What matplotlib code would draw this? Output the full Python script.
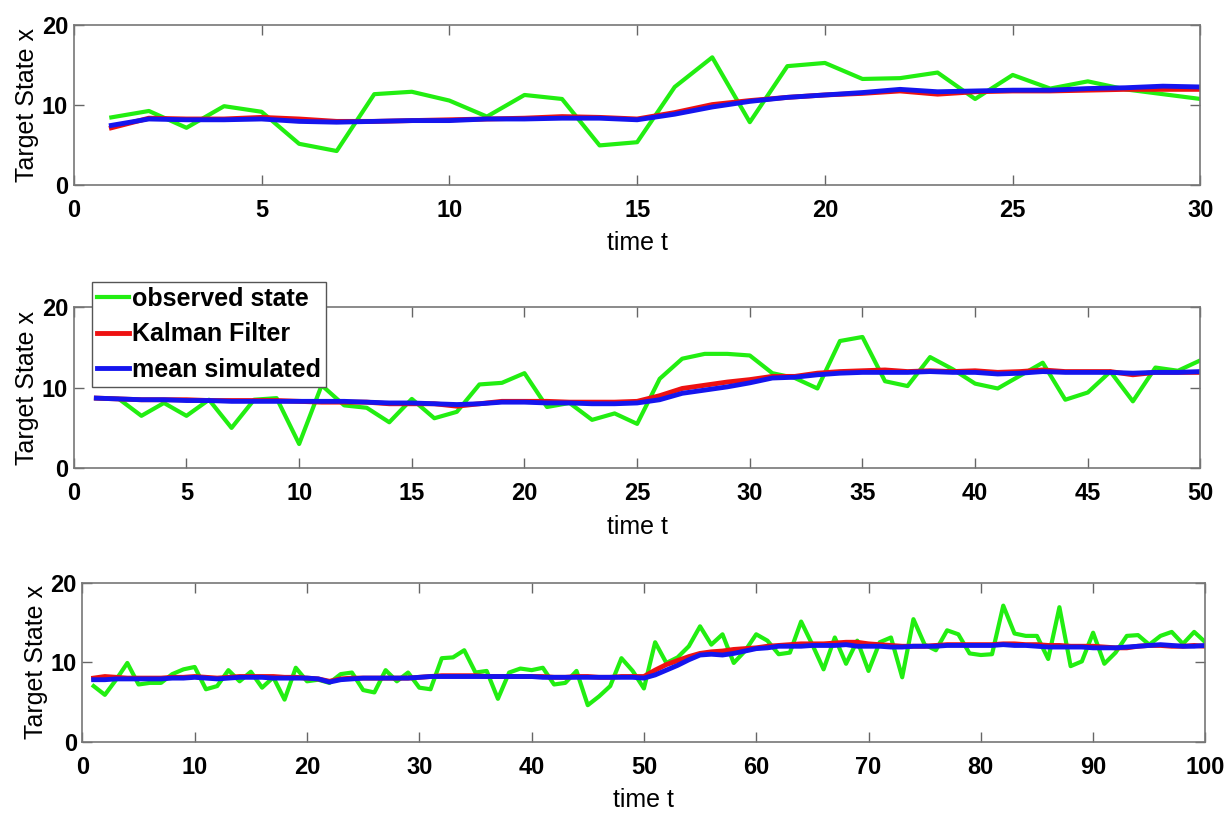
import numpy as np
import matplotlib
matplotlib.use('Agg')
from matplotlib import pyplot as plt

plt.rcParams['font.family'] = ['Liberation Sans', 'DejaVu Sans']

# panel 1: T = 30
obs_30 = [8.4, 9.2, 7.1, 9.8, 9.1, 5.1, 4.2, 11.3, 11.6, 10.5, 8.5, 11.2, 10.7, 4.9, 5.3,
          12.2, 15.9, 7.8, 14.8, 15.2, 13.2, 13.3, 14.0, 10.7, 13.7, 12.0, 12.9, 11.9, 11.3, 10.7]
kf_30 = [7.1, 8.3, 8.2, 8.2, 8.4, 8.2, 7.9, 7.9, 8.0, 8.1, 8.2, 8.3, 8.5, 8.4, 8.2,
         9.0, 10.0, 10.5, 10.9, 11.2, 11.4, 11.7, 11.3, 11.6, 11.7, 11.7, 11.8, 11.9, 11.9, 11.9]
sim_30 = [7.4, 8.2, 8.1, 8.1, 8.2, 7.9, 7.8, 7.9, 8.0, 8.0, 8.2, 8.2, 8.3, 8.3, 8.1,
          8.8, 9.7, 10.4, 10.9, 11.2, 11.5, 11.9, 11.6, 11.7, 11.8, 11.8, 12.0, 12.1, 12.3, 12.2]

# panel 2: T = 50
obs_50 = [8.7, 8.6, 6.5, 8.1, 6.5, 8.5, 5.0, 8.5, 8.7, 3.0,
          10.3, 7.8, 7.5, 5.7, 8.6, 6.2, 7.0, 10.4, 10.6, 11.8,
          7.6, 8.1, 6.0, 6.8, 5.5, 11.1, 13.6, 14.2, 14.2, 14.0,
          11.8, 11.2, 9.9, 15.8, 16.3, 10.8, 10.2, 13.8, 12.3, 10.5,
          9.9, 11.5, 13.1, 8.5, 9.4, 12.0, 8.3, 12.5, 12.1, 13.4]
kf_50 = [8.7, 8.6, 8.5, 8.5, 8.5, 8.4, 8.4, 8.4, 8.4, 8.3,
         8.2, 8.2, 8.2, 8.0, 8.0, 8.0, 7.7, 8.0, 8.3, 8.3,
         8.3, 8.2, 8.2, 8.2, 8.3, 9.0, 9.9, 10.3, 10.7, 11.0,
         11.4, 11.4, 11.8, 12.0, 12.1, 12.2, 12.0, 12.1, 12.0, 12.1,
         11.9, 12.0, 12.2, 12.0, 12.0, 12.0, 11.6, 11.9, 11.9, 11.9]
sim_50 = [8.7, 8.6, 8.5, 8.5, 8.4, 8.4, 8.3, 8.3, 8.3, 8.3,
          8.3, 8.3, 8.2, 8.1, 8.1, 8.0, 7.9, 8.0, 8.2, 8.2,
          8.1, 8.1, 8.0, 8.0, 8.1, 8.5, 9.3, 9.7, 10.1, 10.6,
          11.2, 11.3, 11.6, 11.8, 11.9, 11.9, 11.9, 12.0, 11.9, 11.9,
          11.7, 11.8, 12.0, 11.9, 11.9, 11.9, 11.8, 11.9, 11.9, 12.0]

# panel 3: T = 100
obs_100 = [7.0, 5.9, 7.8, 9.9, 7.2, 7.4, 7.4, 8.5, 9.1, 9.4,
           6.6, 7.0, 9.0, 7.6, 8.8, 6.8, 8.1, 5.3, 9.3, 7.6,
           7.8, 7.4, 8.5, 8.7, 6.5, 6.2, 9.0, 7.6, 8.7, 6.8,
           6.6, 10.5, 10.6, 11.5, 8.7, 8.9, 5.4, 8.7, 9.2, 9.0,
           9.3, 7.2, 7.4, 8.9, 4.6, 5.7, 7.0, 10.5, 8.9, 6.7,
           12.5, 9.9, 10.6, 12.0, 14.5, 12.2, 13.5, 9.9, 11.4, 13.5,
           12.7, 11.0, 11.2, 15.1, 12.2, 9.1, 13.1, 9.8, 12.7, 8.9,
           12.5, 13.1, 8.1, 15.4, 12.2, 11.5, 14.0, 13.5, 11.1, 10.9,
           11.0, 17.1, 13.6, 13.3, 13.3, 10.4, 16.9, 9.5, 10.1, 13.7,
           9.8, 11.2, 13.3, 13.4, 12.2, 13.3, 13.8, 12.3, 13.8, 12.5]
kf_100 = [8.0, 8.2, 8.1, 8.0, 8.0, 8.0, 8.0, 8.1, 8.1, 8.2,
          8.1, 8.0, 8.1, 8.2, 8.2, 8.2, 8.2, 8.1, 8.1, 8.0,
          7.9, 7.6, 7.9, 8.0, 8.0, 8.0, 8.0, 8.0, 8.0, 8.1,
          8.2, 8.3, 8.3, 8.3, 8.3, 8.2, 8.2, 8.2, 8.2, 8.2,
          8.2, 8.1, 8.1, 8.2, 8.2, 8.1, 8.1, 8.2, 8.2, 8.2,
          9.0, 9.7, 10.2, 10.7, 11.1, 11.3, 11.4, 11.6, 11.7, 11.8,
          12.0, 12.1, 12.2, 12.3, 12.3, 12.3, 12.4, 12.5, 12.5, 12.3,
          12.2, 12.1, 12.0, 12.0, 12.0, 12.1, 12.2, 12.2, 12.2, 12.2,
          12.2, 12.3, 12.3, 12.2, 12.2, 12.1, 12.1, 12.0, 12.0, 12.0,
          11.9, 11.8, 11.8, 12.0, 12.1, 12.1, 12.0, 12.0, 12.1, 12.0]
sim_100 = [7.8, 7.8, 7.9, 7.9, 7.9, 7.9, 7.9, 8.0, 8.0, 8.1,
           8.0, 7.9, 8.0, 8.1, 8.1, 8.1, 8.0, 8.0, 8.0, 8.0,
           7.9, 7.5, 7.8, 7.9, 8.0, 8.0, 8.0, 8.0, 8.0, 8.1,
           8.2, 8.2, 8.2, 8.2, 8.2, 8.2, 8.2, 8.2, 8.2, 8.2,
           8.1, 8.1, 8.1, 8.1, 8.1, 8.1, 8.1, 8.1, 8.1, 8.0,
           8.4, 9.0, 9.6, 10.3, 10.9, 11.0, 10.9, 11.1, 11.4, 11.7,
           11.8, 12.0, 12.0, 12.0, 12.1, 12.1, 12.1, 12.2, 12.0, 12.0,
           12.0, 11.9, 11.9, 12.0, 12.0, 12.0, 12.1, 12.1, 12.1, 12.1,
           12.1, 12.2, 12.1, 12.1, 12.0, 11.9, 11.9, 11.9, 11.9, 11.8,
           11.8, 11.8, 11.9, 12.0, 12.1, 12.2, 12.1, 12.0, 12.0, 12.1]

panels = [(obs_30, kf_30, sim_30, 30, [0, 5, 10, 15, 20, 25, 30]),
          (obs_50, kf_50, sim_50, 50, [0, 5, 10, 15, 20, 25, 30, 35, 40, 45, 50]),
          (obs_100, kf_100, sim_100, 100, [0, 10, 20, 30, 40, 50, 60, 70, 80, 90, 100])]

# axes boxes in figure fractions [left, bottom, width, height]
boxes = [[0.060, 0.774, 0.916, 0.196],
         [0.060, 0.427, 0.916, 0.197],
         [0.067, 0.092, 0.913, 0.195]]

fig = plt.figure(figsize=(12.3, 8.17), dpi=100)

for i, (obs, kf, sim, T, xt) in enumerate(panels):
    ax = fig.add_axes(boxes[i])
    t = np.arange(1, T + 1)
    ax.plot(t, obs, color='#22ee11', linewidth=3.0, label='observed state')
    ax.plot(t, kf, color='#ee1111', linewidth=3.5, label='Kalman Filter')
    ax.plot(t, sim, color='#1515ee', linewidth=3.5, label='mean simulated')
    ax.set_xlim(0, T)
    ax.set_ylim(0, 20)
    ax.set_xticks(xt)
    ax.set_yticks([0, 10, 20])
    ax.tick_params(direction='in', top=True, right=True, length=7, width=1,
                   color='#666666', labelsize=17)
    ax.tick_params(axis='x', pad=10)
    ax.tick_params(axis='y', pad=4)
    for lab in ax.get_xticklabels() + ax.get_yticklabels():
        lab.set_fontweight('bold')
    for s in ax.spines.values():
        s.set_color('#777777')
        s.set_linewidth(1.2)
    ax.set_xlabel('time t', fontsize=18, labelpad=7)
    ax.set_ylabel('Target State x', fontsize=18, labelpad=2)
    if i == 1:
        leg = ax.legend(loc='upper left', bbox_to_anchor=(0.016, 1.155), fontsize=18,
                        handlelength=1.3, handletextpad=0.1, borderpad=0.2,
                        labelspacing=0.45, fancybox=False, framealpha=1,
                        edgecolor='#555555', borderaxespad=0)
        for txt in leg.get_texts():
            txt.set_fontweight('bold')
        leg.set_zorder(10)

plt.savefig('out.png', dpi=100)
